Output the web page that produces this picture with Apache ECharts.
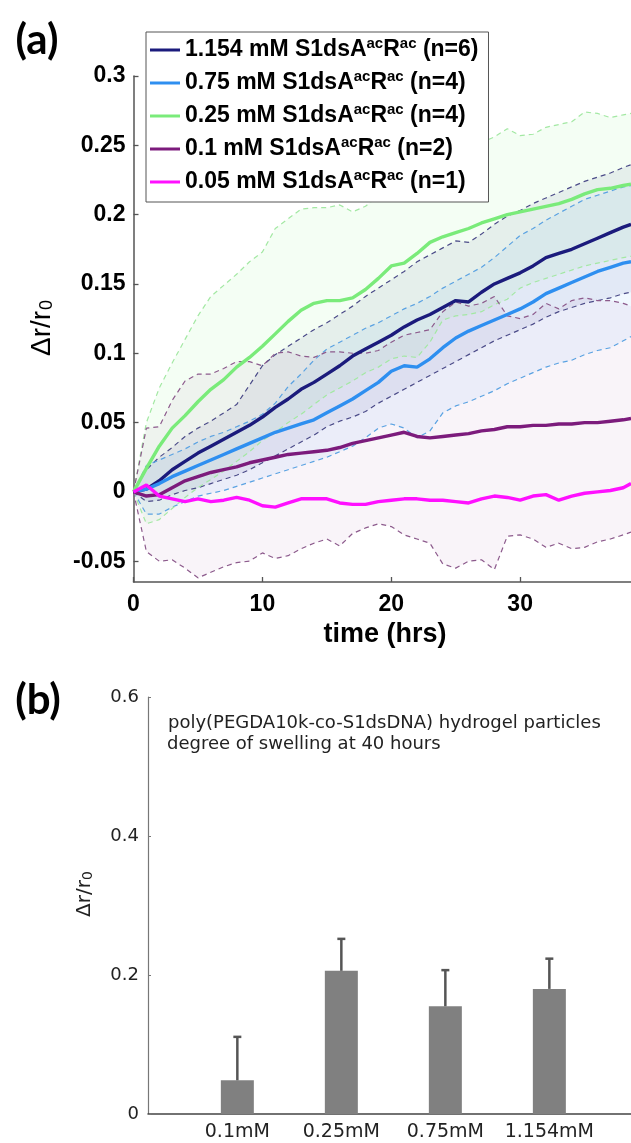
<!DOCTYPE html>
<html><head><meta charset="utf-8">
<script src="https://cdn.jsdelivr.net/npm/echarts@6/dist/echarts.min.js"></script>
<style>html,body{margin:0;padding:0;background:#fff}#c{width:631px;height:1143px}</style>
</head><body><div id="c"></div>
<script>
// ---------- panel (a) data ----------
const hours = [0,1,2,3,4,5,6,7,8,9,10,11,12,13,14,15,16,17,18,19,20,21,22,23,24,25,26,27,28,29,30,31,32,33,34,35,36,37,38,38.6];
const concLabels = ['1.154','0.75','0.25','0.1','0.05'];
const nCounts = [6,4,4,2,1];

const navyMean  = [0,0.002,0.008,0.016,0.022,0.028,0.033,0.038,0.043,0.048,0.054,0.061,0.067,0.074,0.079,0.085,0.091,0.098,0.103,0.108,0.113,0.119,0.124,0.128,0.133,0.138,0.137,0.144,0.15,0.154,0.158,0.163,0.169,0.172,0.175,0.179,0.183,0.187,0.191,0.193];
const navyUpper = [0,0.016,0.025,0.032,0.04,0.046,0.051,0.057,0.063,0.077,0.091,0.099,0.105,0.111,0.117,0.122,0.128,0.134,0.141,0.147,0.153,0.159,0.166,0.171,0.176,0.181,0.18,0.186,0.193,0.199,0.203,0.208,0.212,0.216,0.22,0.224,0.227,0.23,0.234,0.236];
const navyLower = [0,-0.007,-0.006,-0.002,0.001,0.003,0.006,0.009,0.012,0.016,0.021,0.026,0.031,0.036,0.041,0.047,0.051,0.054,0.058,0.064,0.069,0.074,0.079,0.084,0.089,0.094,0.099,0.104,0.109,0.113,0.117,0.121,0.126,0.13,0.133,0.136,0.138,0.14,0.143,0.144];

const blueMean  = [0,0.002,0.006,0.011,0.015,0.019,0.023,0.027,0.031,0.035,0.039,0.043,0.046,0.049,0.052,0.057,0.062,0.067,0.073,0.079,0.087,0.091,0.09,0.096,0.104,0.111,0.116,0.12,0.124,0.128,0.132,0.137,0.143,0.147,0.151,0.155,0.159,0.162,0.165,0.166];
const blueUpper = [0,0.019,0.023,0.027,0.031,0.036,0.04,0.043,0.047,0.051,0.056,0.064,0.076,0.085,0.095,0.103,0.108,0.113,0.118,0.122,0.127,0.132,0.136,0.141,0.147,0.152,0.157,0.162,0.169,0.177,0.185,0.19,0.196,0.201,0.206,0.211,0.214,0.217,0.22,0.221];
const blueLower = [0,-0.016,-0.016,-0.011,-0.007,-0.003,-0.001,0.001,0.004,0.007,0.01,0.013,0.016,0.019,0.022,0.025,0.029,0.033,0.039,0.046,0.049,0.046,0.039,0.044,0.057,0.062,0.065,0.069,0.073,0.078,0.082,0.086,0.09,0.093,0.095,0.099,0.102,0.104,0.109,0.112];

const greenMean  = [0,0.017,0.033,0.046,0.055,0.065,0.074,0.081,0.09,0.097,0.105,0.114,0.123,0.131,0.136,0.138,0.138,0.14,0.146,0.154,0.163,0.165,0.172,0.18,0.184,0.187,0.19,0.194,0.197,0.2,0.202,0.204,0.206,0.208,0.211,0.215,0.218,0.219,0.221,0.222];
const greenUpper = [0,0.05,0.075,0.093,0.11,0.127,0.141,0.149,0.157,0.166,0.173,0.19,0.197,0.204,0.205,0.205,0.207,0.202,0.206,0.214,0.22,0.228,0.234,0.238,0.242,0.245,0.249,0.252,0.256,0.262,0.257,0.258,0.263,0.265,0.267,0.274,0.273,0.27,0.272,0.273];
const greenLower = [0,-0.023,-0.02,-0.012,-0.004,0.003,0.009,0.015,0.022,0.029,0.037,0.043,0.05,0.056,0.063,0.07,0.075,0.08,0.086,0.09,0.096,0.098,0.097,0.108,0.124,0.127,0.128,0.13,0.135,0.139,0.147,0.151,0.154,0.157,0.16,0.163,0.165,0.167,0.169,0.17];

const purpleMean  = [0,-0.003,-0.002,0.003,0.008,0.011,0.014,0.016,0.018,0.021,0.023,0.025,0.027,0.028,0.029,0.03,0.032,0.035,0.037,0.039,0.041,0.043,0.04,0.039,0.04,0.041,0.042,0.044,0.045,0.047,0.047,0.048,0.048,0.049,0.049,0.05,0.05,0.051,0.052,0.053];
const purpleUpper = [0,0.046,0.047,0.066,0.08,0.085,0.085,0.089,0.094,0.094,0.091,0.1,0.101,0.098,0.097,0.101,0.101,0.1,0.1,0.102,0.108,0.113,0.115,0.117,0.13,0.137,0.134,0.136,0.141,0.127,0.125,0.128,0.136,0.132,0.138,0.14,0.138,0.138,0.136,0.134];
const purpleLower = [0,-0.043,-0.05,-0.049,-0.055,-0.062,-0.058,-0.054,-0.051,-0.05,-0.044,-0.048,-0.046,-0.041,-0.037,-0.034,-0.039,-0.03,-0.026,-0.023,-0.025,-0.031,-0.034,-0.037,-0.052,-0.055,-0.05,-0.049,-0.056,-0.032,-0.031,-0.034,-0.04,-0.037,-0.041,-0.04,-0.036,-0.034,-0.031,-0.029];

const magentaMean = [0,0.005,-0.003,-0.005,-0.007,-0.005,-0.007,-0.006,-0.004,-0.006,-0.01,-0.011,-0.008,-0.005,-0.005,-0.005,-0.008,-0.009,-0.009,-0.007,-0.006,-0.005,-0.005,-0.006,-0.006,-0.007,-0.008,-0.005,-0.003,-0.004,-0.006,-0.003,-0.002,-0.006,-0.003,-0.001,0,0.001,0.003,0.006];

const xTicksA = [0,10,20,30];
const yTicksA = [-0.05,0,0.05,0.1,0.15,0.2,0.25,0.3];

// ---------- panel (b) data ----------
const barCategories = ['0.1mM','0.25mM','0.75mM','1.154mM'];
const barPositions = [1,2,3,4];
const barMeans = [0.0485, 0.206, 0.155, 0.180];
const barErrors = [0.0625, 0.046, 0.052, 0.0435];
const yTicksB = [0,0.2,0.4,0.6];

// ---------- styles ----------
const groups = [
  {name: concLabels[0], mean: navyMean,   hi: navyUpper,   lo: navyLower,   color:'#1b1b7c', dash:'#4b4b88', band:'rgba(40,40,135,0.075)'},
  {name: concLabels[1], mean: blueMean,   hi: blueUpper,   lo: blueLower,   color:'#2e8ff0', dash:'#5aa2e2', band:'rgba(50,150,250,0.065)'},
  {name: concLabels[2], mean: greenMean,  hi: greenUpper,  lo: greenLower,  color:'#7aeb7a', dash:'#a3e8a3', band:'rgba(120,236,120,0.08)'},
  {name: concLabels[3], mean: purpleMean, hi: purpleUpper, lo: purpleLower, color:'#7c1b7c', dash:'#8c5a8c', band:'rgba(128,30,128,0.05)'},
  {name: concLabels[4], mean: magentaMean, hi: null, lo: null, color:'#ff10ff'}
];

const pairs = arr => hours.map((h,i)=>[h, arr[i]]);
const series = [];
// shaded bands: one polygon per group, built from its lower and upper arrays through the axes' scales
groups.forEach((g,k)=>{
  if(!g.hi) return;
  series.push({type:'custom', xAxisIndex:0, yAxisIndex:0, z:1, silent:true, animation:false,
    data: hours.map((h,i)=>[h, g.lo[i], g.hi[i]]),
    encode:{x:0, y:[1,2]},
    renderItem:(params, api)=>{
      if(params.dataIndex !== 0) return null;
      const upperPts = hours.map((h,i)=>api.coord([h, g.hi[i]]));
      const lowerPts = hours.map((h,i)=>api.coord([h, g.lo[i]])).reverse();
      return {type:'polygon', shape:{points: upperPts.concat(lowerPts)}, style:{fill:g.band}};
    }});
});
// dashed bounds
groups.forEach(g=>{
  if(!g.hi) return;
  [g.hi, g.lo].forEach(arr=>{
    series.push({type:'line', xAxisIndex:0, yAxisIndex:0, data:pairs(arr), symbol:'none',
      lineStyle:{color:g.dash, width:1.2, type:[5,4]}, silent:true, z:2, animation:false});
  });
});
// means (draw order: green, navy, blue, purple, magenta)
[2,0,1,3,4].forEach(k=>{
  const g = groups[k];
  series.push({type:'line', name:g.name, xAxisIndex:0, yAxisIndex:0, data:pairs(g.mean), symbol:'none',
    color:g.color, lineStyle:{color:g.color, width:3.4}, z:3, animation:false});
});
// bars
series.push({type:'bar', xAxisIndex:1, yAxisIndex:1, data:barPositions.map((p,i)=>[p, barMeans[i]]),
  barWidth:33, itemStyle:{color:'#808080'}, animation:false, z:2});
series.push({type:'custom', xAxisIndex:1, yAxisIndex:1, z:3, animation:false,
  data: barPositions.map((p,i)=>[p, barMeans[i], barErrors[i]]),
  renderItem:(params, api)=>{
    const x = api.value(0), m = api.value(1), e = api.value(2);
    const p0 = api.coord([x, m]), p1 = api.coord([x, m+e]);
    const st = {stroke:'#555', lineWidth:2.5};
    return {type:'group', children:[
      {type:'line', shape:{x1:p0[0], y1:p0[1], x2:p1[0], y2:p1[1]}, style:st},
      {type:'line', shape:{x1:p1[0]-4, y1:p1[1], x2:p1[0]+4, y2:p1[1]}, style:st}
    ]};
  }});

const boldA = {fontFamily:'Liberation Sans', fontWeight:'bold', color:'#000'};
const legendRich = {sup:{fontFamily:'Liberation Sans', fontWeight:'bold', fontSize:15, lineHeight:15, verticalAlign:'top', color:'#000'}};

const option = {
  backgroundColor:'#fff',
  animation:false,
  grid:[
    {left:133.5, right:0, top:76, height:506},
    {left:148, right:0, top:697, height:417}
  ],
  xAxis:[
    {type:'value', gridIndex:0, min:0, max:38.6,
     axisLine:{show:true, onZero:false, lineStyle:{color:'#555', width:1.5}},
     axisTick:{show:true, inside:true, length:5, customValues:xTicksA, lineStyle:{color:'#555', width:1.3}},
     axisLabel:{customValues:xTicksA, margin:11, fontSize:23, ...boldA},
     splitLine:{show:false}},
    {type:'value', gridIndex:1, min:0.141, max:4.785,
     axisLine:{show:true, onZero:false, lineStyle:{color:'#444', width:1.5}},
     axisTick:{show:false},
     axisLabel:{customValues:barPositions, formatter:v=>barCategories[Math.round(v)-1], margin:9,
       fontFamily:'DejaVu Sans', fontSize:19, color:'#222'},
     splitLine:{show:false}}
  ],
  yAxis:[
    {type:'value', gridIndex:0, min:-0.065, max:0.3,
     axisLine:{show:true, onZero:false, lineStyle:{color:'#555', width:1.5}},
     axisTick:{show:true, inside:true, length:5, customValues:yTicksA, lineStyle:{color:'#555', width:1.3}},
     axisLabel:{customValues:yTicksA, margin:8, fontSize:23, ...boldA},
     splitLine:{show:false}},
    {type:'value', gridIndex:1, min:0, max:0.6,
     axisLine:{show:true, onZero:false, lineStyle:{color:'#777', width:1.2}},
     axisTick:{show:true, inside:true, length:3, customValues:yTicksB, lineStyle:{color:'#777'}},
     axisLabel:{customValues:yTicksB, margin:9, fontFamily:'DejaVu Sans', fontSize:18, color:'#222'},
     splitLine:{show:false}}
  ],
  legend:{
    show:true, orient:'vertical', left:146, top:32, selectedMode:false,
    data: concLabels,
    icon:'rect', itemWidth:30, itemHeight:3, itemGap:5,
    padding:[4,10,6,4], backgroundColor:'#fff', borderColor:'#555', borderWidth:1,
    formatter: name => {
      const i = concLabels.indexOf(name);
      return name + ' mM S1dsA{sup|ac}R{sup|ac} (n=' + nCounts[i] + ')';
    },
    textStyle:{fontFamily:'Liberation Sans', fontWeight:'bold', fontSize:23, lineHeight:28, color:'#000', rich:legendRich}
  },
  graphic:[
    {type:'text', x:37, y:40, z:10, style:{text:'(a)', fontFamily:'Lato', fontWeight:'bold', fontSize:42, fill:'#000', align:'center', verticalAlign:'middle'}},
    {type:'text', x:38, y:700, z:10, style:{text:'(b)', fontFamily:'Lato', fontWeight:'bold', fontSize:42, fill:'#000', align:'center', verticalAlign:'middle'}},
    {type:'text', x:42, y:328, rotation:Math.PI/2, z:10, style:{text:'Δr/r{sub|0}', fontFamily:'Liberation Sans', fontSize:28, fill:'#000', align:'center', verticalAlign:'middle',
      rich:{sub:{fontFamily:'Liberation Sans', fontSize:18, verticalAlign:'bottom', lineHeight:18, padding:[0,0,0,1]}}}},
    {type:'text', x:385, y:635, z:10, style:{text:'time (hrs)', fontFamily:'Liberation Sans', fontWeight:'bold', fontSize:27, fill:'#000', align:'center', verticalAlign:'middle'}},
    {type:'text', x:168, y:723, z:10, style:{text:'poly(PEGDA10k-co-S1dsDNA) hydrogel particles', fontFamily:'DejaVu Sans', fontSize:18, fill:'#222', align:'left', verticalAlign:'middle'}},
    {type:'text', x:167, y:744, z:10, style:{text:'degree of swelling at 40 hours', fontFamily:'DejaVu Sans', fontSize:18, fill:'#222', align:'left', verticalAlign:'middle'}},
    {type:'text', x:85, y:894, rotation:Math.PI/2, z:10, style:{text:'Δr/r{sub|0}', fontFamily:'DejaVu Sans', fontSize:20, fill:'#222', align:'center', verticalAlign:'middle',
      rich:{sub:{fontFamily:'DejaVu Sans', fontSize:14, verticalAlign:'bottom', lineHeight:14}}}}
  ],
  series: series
};

const chart = echarts.init(document.getElementById('c'), null, {renderer:'canvas'});
chart.setOption(option);
</script>
</body></html>
